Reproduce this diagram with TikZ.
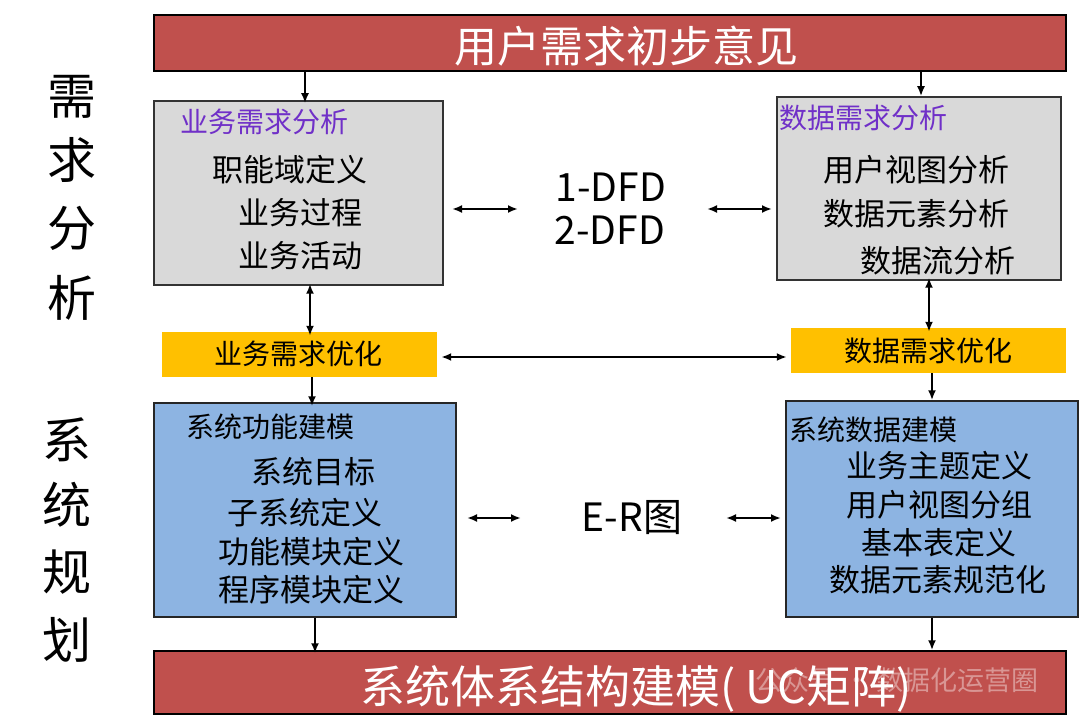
\documentclass[tikz,border=0pt]{standalone}
\usepackage{fontspec}
\setmainfont{Noto Sans CJK SC}
\usetikzlibrary{arrows.meta}
\definecolor{barred}{HTML}{C0504D}
\definecolor{boxgray}{HTML}{D9D9D9}
\definecolor{optyellow}{HTML}{FFC000}
\definecolor{modblue}{HTML}{8DB4E2}
\definecolor{titlepurple}{HTML}{7030C8}
\begin{document}
\begin{tikzpicture}[x=1pt,y=-1pt,
  bar/.style={draw=black,line width=1.5pt,fill=barred,inner sep=0pt},
  graybox/.style={draw=black!80,line width=1.5pt,fill=boxgray,inner sep=0pt},
  yelbox/.style={fill=optyellow,inner sep=0pt},
  bluebox/.style={draw=black!85,line width=1.5pt,fill=modblue,inner sep=0pt},
  bartext/.style={text=white,font=\fontsize{43}{48}\selectfont,inner sep=0pt},
  boxtitle/.style={anchor=west,font=\fontsize{28}{32}\selectfont,inner sep=0pt},
  line/.style={font=\fontsize{31}{36}\selectfont,inner sep=0pt},
  side/.style={font=\fontsize{49}{52}\selectfont,inner sep=0pt},
  mid/.style={font=\fontsize{39}{44}\selectfont,inner sep=0pt,align=center},
  arr/.style={line width=2pt,-{Latex[length=10pt,width=8pt]}},
  darr/.style={line width=2pt,{Latex[length=10pt,width=8pt]}-{Latex[length=10pt,width=8pt]}}]
\useasboundingbox (0,0) rectangle (1080,722);
\fill[white] (0,0) rectangle (1080,722);

% side labels
\node[side] (s1) at (72,97) {需};
\node[side] (s2) at (72,160) {求};
\node[side] (s3) at (72,228) {分};
\node[side] (s4) at (72,298) {析};
\node[side] (s5) at (67,440) {系};
\node[side] (s6) at (67,505) {统};
\node[side] (s7) at (67,572) {规};
\node[side] (s8) at (67,640) {划};

% boxes
\node[bar,minimum width=912pt,minimum height=56pt] (top) at (610,43) {};
\node[bartext] (toptxt) at (626,46) {用户需求初步意见};

\node[graybox,minimum width=289pt,minimum height=184pt] (ga) at (298.5,193) {};
\node[boxtitle,text=titlepurple] (gat) at (180,122) {业务需求分析};
\node[line] (ga1) at (290,170) {职能域定义};
\node[line] (ga2) at (300,213) {业务过程};
\node[line] (ga3) at (300,256) {业务活动};

\node[graybox,minimum width=284pt,minimum height=183pt] (gb) at (919,188.5) {};
\node[boxtitle,text=titlepurple] (gbt) at (779,118) {数据需求分析};
\node[line] (gb1) at (916,170) {用户视图分析};
\node[line] (gb2) at (916,214) {数据元素分析};
\node[line] (gb3) at (938,261) {数据流分析};

\node[mid] (dfd1) at (611,187) {1-DFD};
\node[mid] (dfd2) at (610,230) {2-DFD};

\node[yelbox,minimum width=275pt,minimum height=45pt] (ya) at (299.5,354.5) {};
\node[boxtitle,anchor=center] (yat) at (298,354) {业务需求优化};
\node[yelbox,minimum width=275pt,minimum height=45pt] (yb) at (928.5,350.5) {};
\node[boxtitle,anchor=center] (ybt) at (928,351) {数据需求优化};

\node[bluebox,minimum width=302pt,minimum height=214pt] (ba) at (305,510) {};
\node[boxtitle] (bat) at (186,427) {系统功能建模};
\node[line] (ba1) at (313,472) {系统目标};
\node[line] (ba2) at (305,513) {子系统定义};
\node[line] (ba3) at (311,552) {功能模块定义};
\node[line] (ba4) at (311,590) {程序模块定义};

\node[bluebox,minimum width=292pt,minimum height=216pt] (bb) at (932,509) {};
\node[boxtitle] (bbt) at (789,430) {系统数据建模};
\node[line] (bb1) at (939,466) {业务主题定义};
\node[line] (bb2) at (939,505) {用户视图分组};
\node[line] (bb3) at (939,543) {基本表定义};
\node[line] (bb4) at (938,580) {数据元素规范化};

\node[mid] (er) at (632,518) {E-R图};

\node[bar,minimum width=912pt,minimum height=63pt] (bot) at (610,682.5) {};
\node[text=white,opacity=0.4,font=\fontsize{27}{30}\selectfont,inner sep=0pt] (wm) at (897,680) {公众号 · 数据化运营圈};
\node[bartext,font=\fontsize{45}{50}\selectfont,anchor=west] (bottxt) at (360,689) {系统体系结构建模( UC矩阵)};

% connector end coordinates
\coordinate (h1a) at (452,209); \coordinate (h1b) at (518,209);
\coordinate (h2a) at (707,209); \coordinate (h2b) at (772,209);
\coordinate (h3a) at (467,518); \coordinate (h3b) at (521,518);
\coordinate (h4a) at (726,518); \coordinate (h4b) at (781,518);

% connectors
\draw[arr] (top.south -| 305,0) -- ([yshift=-3pt]ga.north -| 305,0);
\draw[arr] (top.south -| 921,0) -- (gb.north -| 921,0);
\draw[darr] ([yshift=2pt]ga.south -| 310,0) -- ([yshift=-4pt]ya.north -| 310,0);
\draw[darr] ([yshift=3pt]gb.south -| 929,0) -- ([yshift=-4pt]yb.north -| 929,0);
\draw[darr] ([xshift=4pt]ya.east |- 0,357) -- ([xshift=-4pt]yb.west |- 0,357);
\draw[arr] (ya.south -| 312,0) -- ([yshift=-4pt]ba.north -| 312,0);
\draw[arr] (yb.south -| 932,0) -- (bb.north -| 932,0);
\draw[arr] (ba.south -| 315,0) -- ([yshift=-3pt]bot.north -| 315,0);
\draw[arr] (bb.south -| 932,0) -- (bot.north -| 932,0);
\draw[darr] (h1a) -- (h1b);
\draw[darr] (h2a) -- (h2b);
\draw[darr] (h3a) -- (h3b);
\draw[darr] (h4a) -- (h4b);
\end{tikzpicture}
\end{document}
